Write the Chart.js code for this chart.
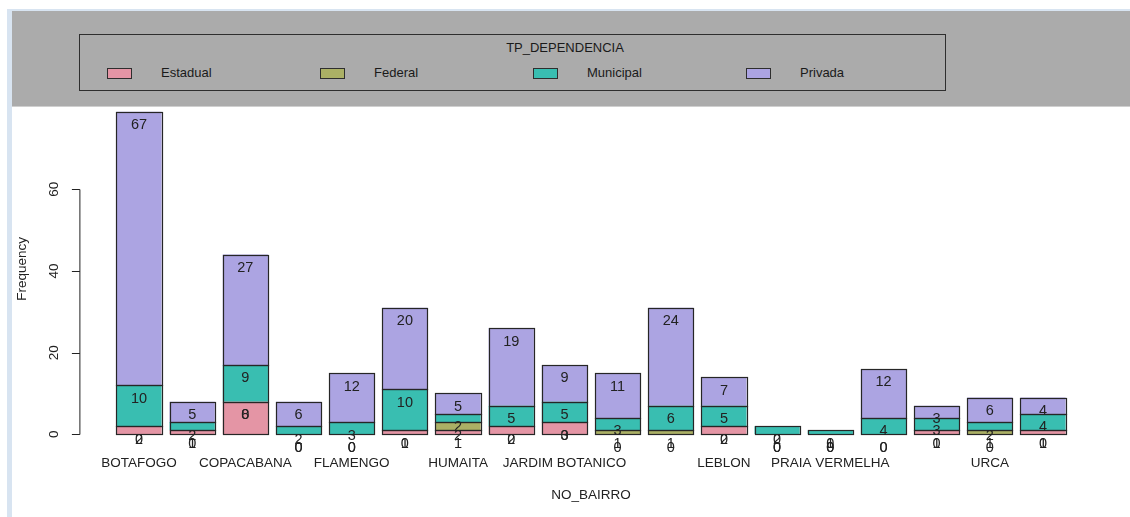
<!DOCTYPE html>
<html>
<head>
<meta charset="utf-8">
<script src="https://cdn.jsdelivr.net/npm/chart.js@4.4.1/dist/chart.umd.min.js"></script>
<style>
  body { margin: 0; background: #fff; font-family: "Liberation Sans", Arial, sans-serif; }
  #page { position: relative; width: 1130px; height: 517px; overflow: hidden; background: #fff; }
  #stripe { position: absolute; left: 7px; top: 9px; width: 5px; height: 508px; background: #d8e4f1; }
  #topline { position: absolute; left: 7px; top: 9px; width: 1123px; height: 2px; background: #d8e4f1; }
  #band { position: absolute; left: 12px; top: 11px; width: 1118px; height: 95px; background: #ababab; border-bottom: 1px solid #cfcfcf; }
  #legendBox { position: absolute; left: 79px; top: 34px; width: 867px; height: 57px; box-sizing: border-box; border: 1.5px solid #2e2e2e; }
  .legend-title { position: absolute; left: 0; width: 100%; top: 41px; text-align: center; font-size: 13px; color: #1a1a1a; line-height: 14px; }
  .swatch { position: absolute; top: 68px; width: 23px; height: 9px; border: 1px solid #2e2e2e; }
  .legend-text { position: absolute; top: 66px; font-size: 13px; line-height: 14px; color: #1a1a1a; }
  #chartWrap { position: absolute; left: 12px; top: 106px; width: 1118px; height: 411px; }
</style>
</head>
<body>
<div id="page">
  <div id="stripe"></div>
  <div id="topline"></div>
  <div id="band"></div>
  <div id="legendBox"></div>
  <div class="legend-title" id="legendTitle">TP_DEPENDENCIA</div>
  <div id="legendItems"></div>
  <div id="chartWrap"><canvas id="chart" width="1118" height="411"></canvas></div>
</div>
<script>
// x categories (R only printed the labels that fit, the rest stay blank)
const categories = ['BOTAFOGO', '', 'COPACABANA', '', 'FLAMENGO', '', 'HUMAITA', '', 'JARDIM BOTANICO',
  '', '', 'LEBLON', '', 'PRAIA VERMELHA', '', '', 'URCA', ''];

const seriesNames = ['Estadual', 'Federal', 'Municipal', 'Privada'];
const seriesColors = ['#E495A5', '#ABB065', '#39BEB1', '#ACA4E2'];

const estadual  = [2, 1, 8, 0, 0, 1, 1, 2, 3, 0, 0, 2, 0, 0, 0, 1, 0, 1];
const federal   = [0, 0, 0, 0, 0, 0, 2, 0, 0, 1, 1, 0, 0, 0, 0, 0, 1, 0];
const municipal = [10, 2, 9, 2, 3, 10, 2, 5, 5, 3, 6, 5, 2, 1, 4, 3, 2, 4];
const privada   = [67, 5, 27, 6, 12, 20, 5, 19, 9, 11, 24, 7, 0, 0, 12, 3, 6, 4];

const yTicks = [0, 20, 40, 60];
const legendTitle = 'TP_DEPENDENCIA';
const xTitle = 'NO_BAIRRO';
const yTitle = 'Frequency';

const FONT = '"Liberation Sans", Arial, sans-serif';
const LABEL_SHIFT = 3.3; // labels sit a bit under each segment top, like the original text() call

// legend (html, built from the series arrays)
document.getElementById('legendTitle').textContent = legendTitle;
const legendItems = document.getElementById('legendItems');
seriesNames.forEach((name, i) => {
  const sw = document.createElement('div');
  sw.className = 'swatch';
  sw.style.left = (107 + i * 213) + 'px';
  sw.style.background = seriesColors[i];
  legendItems.appendChild(sw);
  const tx = document.createElement('div');
  tx.className = 'legend-text';
  tx.style.left = (161 + i * 213) + 'px';
  tx.textContent = name;
  legendItems.appendChild(tx);
});

const seriesData = [estadual, federal, municipal, privada];

const axesPlugin = {
  id: 'rAxes',
  afterDatasetsDraw(chart) {
    const ctx = chart.ctx;
    const x = chart.scales.x;
    const y = chart.scales.y;
    const area = chart.chartArea;
    ctx.save();

    // outlines like R's rect(): centred on the edges, zero-height ones become a line
    ctx.strokeStyle = '#262626';
    ctx.lineWidth = 1.2;
    chart.data.datasets.forEach((ds, i) => {
      chart.getDatasetMeta(i).data.forEach(bar => {
        const left = Math.round(bar.x - bar.width / 2) + 0.5;
        const right = Math.round(bar.x + bar.width / 2) + 0.5;
        const top = Math.round(bar.y) + 0.5;
        const bottom = Math.round(bar.base) + 0.5;
        ctx.strokeRect(left, top, right - left, bottom - top);
      });
    });

    // segment labels
    ctx.fillStyle = '#222';
    ctx.font = '14.5px ' + FONT;
    ctx.textAlign = 'center';
    ctx.textBaseline = 'middle';
    for (let j = 0; j < categories.length; j++) {
      let cum = 0;
      seriesData.forEach(arr => {
        cum += arr[j];
        ctx.fillText(String(arr[j]), x.getPixelForValue(j), y.getPixelForValue(cum - LABEL_SHIFT));
      });
    }

    // y axis line with ticks
    const axisX = area.left - 32.5;
    ctx.strokeStyle = '#222';
    ctx.lineWidth = 1;
    ctx.beginPath();
    ctx.moveTo(axisX, Math.round(y.getPixelForValue(yTicks[0])) + 0.5);
    ctx.lineTo(axisX, Math.round(y.getPixelForValue(yTicks[yTicks.length - 1])) + 0.5);
    yTicks.forEach(t => {
      const py = Math.round(y.getPixelForValue(t)) + 0.5;
      ctx.moveTo(axisX, py);
      ctx.lineTo(axisX - 8, py);
    });
    ctx.stroke();

    ctx.font = '13.5px ' + FONT;
    yTicks.forEach(t => {
      ctx.save();
      ctx.translate(axisX - 26, y.getPixelForValue(t));
      ctx.rotate(-Math.PI / 2);
      ctx.fillText(String(t), 0, 0);
      ctx.restore();
    });

    // y title
    ctx.save();
    ctx.translate(10.5, (y.getPixelForValue(0) + area.top) / 2 - 2);
    ctx.rotate(-Math.PI / 2);
    ctx.fillText(yTitle, 0, 0);
    ctx.restore();

    // x labels
    categories.forEach((lab, j) => {
      if (lab) ctx.fillText(lab, x.getPixelForValue(j), area.bottom + 29);
    });

    // x title
    ctx.fillText(xTitle, (area.left + area.right) / 2, area.bottom + 61);
    ctx.restore();
  }
};

new Chart(document.getElementById('chart'), {
  type: 'bar',
  data: {
    labels: categories,
    datasets: seriesNames.map((name, i) => ({
      label: name,
      data: seriesData[i],
      backgroundColor: seriesColors[i],
      borderWidth: 0,
      barPercentage: 0.85,
      categoryPercentage: 1
    }))
  },
  options: {
    responsive: false,
    animation: false,
    layout: { padding: { left: 100.4, right: 60.4, top: 1.6, bottom: 82.7 } },
    scales: {
      x: { display: false, stacked: true },
      y: { display: false, stacked: true, min: 0, max: 80 }
    },
    plugins: {
      legend: { display: false },
      tooltip: { enabled: false }
    }
  },
  plugins: [axesPlugin]
});
</script>
</body>
</html>
